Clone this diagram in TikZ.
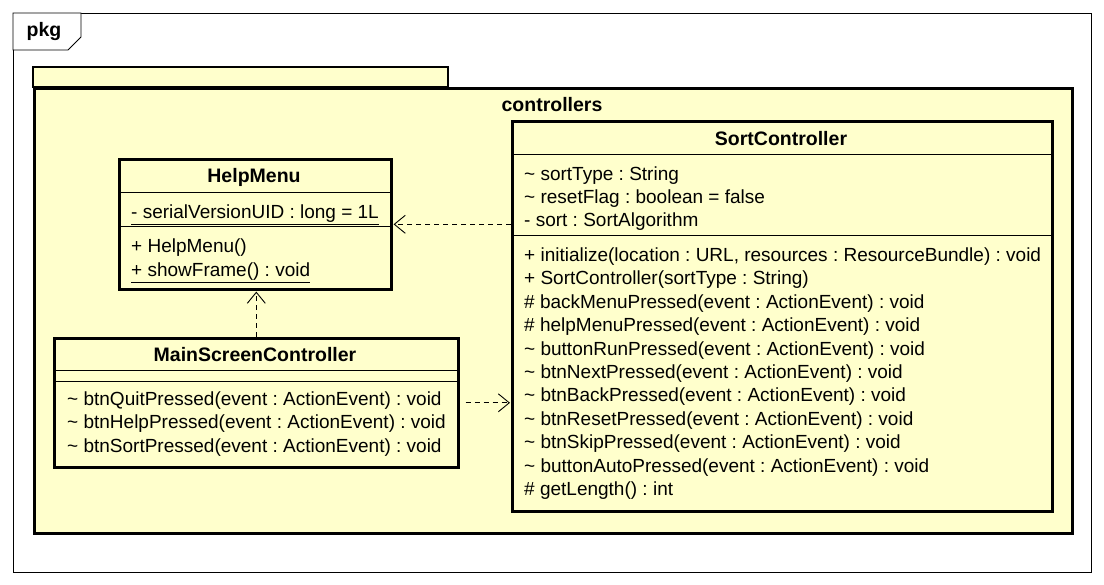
\documentclass[tikz,border=0pt]{standalone}
\usepackage{fontspec}
\setmainfont{Liberation Sans}
\usetikzlibrary{arrows.meta,positioning}

\definecolor{umlfill}{RGB}{255,255,204}
\newcommand{\pkgvis}{\textasciitilde{} }
\frenchspacing

\begin{document}
\begin{tikzpicture}[x=1pt, y=-1pt, >={Straight Barb[length=11pt,width=18pt]},
    font=\fontsize{19}{22}\selectfont,
    classbox/.style={draw, line width=2.6pt, fill=umlfill, inner sep=0pt, anchor=north west},
    classname/.style={font=\fontsize{19.5}{22}\selectfont\bfseries, inner sep=0pt},
    member/.style={anchor=base west, inner sep=0pt},
    sep/.style={line width=0.9pt},
    dep/.style={->, line width=0.9pt, dash pattern=on 5pt off 4pt, shorten >=1pt}]

    \useasboundingbox (0,0) rectangle (1104,585);

    \draw[line width=0.9pt] (13,13) rectangle (1091,572);
    \draw[line width=0.9pt, fill=white] (13,13) -- (81,13) -- (81,37) -- (68,50) -- (13,50) -- cycle;
    \node[classname] (pkgtag) at (44,32) {pkg};

    \draw[line width=2.6pt, fill=umlfill] (33,67) rectangle (448,87);
    \node[classbox, minimum width=1038pt, minimum height=445pt] (controllers) at (33,87) {};
    \node[classname] (controllersname) at (552,105) {controllers};

    \node[classbox, minimum width=272pt, minimum height=130pt] (helpmenu) at (118,158) {};
    \node[classname] (helpmenuname) at (254,177) {HelpMenu};
    \draw[sep] (118,192) -- (390,192);
    \draw[sep] (118,226) -- (390,226);
    \node[member] (serialuid) at (131,218.5) {\underline{- serialVersionUID : long = 1L}};
    \node[member] (helpmenuctor) at (131,252.5) {+ HelpMenu()};
    \node[member] (showframe) at (131,276.5) {\underline{+ showFrame() : void}};

    \node[classbox, minimum width=404pt, minimum height=129pt] (mainctl) at (53,337) {};
    \node[classname] (mainctlname) at (255,355) {MainScreenController};
    \draw[sep] (53,370) -- (457,370);
    \draw[sep] (53,381) -- (457,381);
    \foreach \txt [count=\i from 0] in {btnQuitPressed, btnHelpPressed, btnSortPressed}
        \node[member] at (67,405.5+23.4*\i) {\pkgvis\txt(event : ActionEvent) : void};

    \node[classbox, minimum width=540pt, minimum height=390pt] (sortctl) at (511,120) {};
    \node[classname] (sortctlname) at (781,139) {SortController};
    \draw[sep] (511,154) -- (1051,154);
    \draw[sep] (511,235) -- (1051,235);
    \foreach \txt [count=\i from 0] in {\pkgvis sortType : String, \pkgvis resetFlag : boolean = false, - sort : SortAlgorithm}
        \node[member] at (524,180.5+23.2*\i) {\txt};
    \foreach \txt [count=\i from 0] in {{+ initialize(location : URL, resources : ResourceBundle) : void},
        + SortController(sortType : String),
        \# backMenuPressed(event : ActionEvent) : void,
        \# helpMenuPressed(event : ActionEvent) : void,
        \pkgvis buttonRunPressed(event : ActionEvent) : void,
        \pkgvis btnNextPressed(event : ActionEvent) : void,
        \pkgvis btnBackPressed(event : ActionEvent) : void,
        \pkgvis btnResetPressed(event : ActionEvent) : void,
        \pkgvis btnSkipPressed(event : ActionEvent) : void,
        \pkgvis buttonAutoPressed(event : ActionEvent) : void,
        \# getLength() : int}
        \node[member] at (524,261.5+23.4*\i) {\txt};

    \draw[dep] (sortctl.west |- helpmenu.east) -- (helpmenu.east);
    \draw[dep] (mainctl.north) -- (mainctl.north |- helpmenu.south);
    \draw[dep] ([xshift=6pt]mainctl.east) -- (sortctl.west |- mainctl.east);

\end{tikzpicture}
\end{document}
